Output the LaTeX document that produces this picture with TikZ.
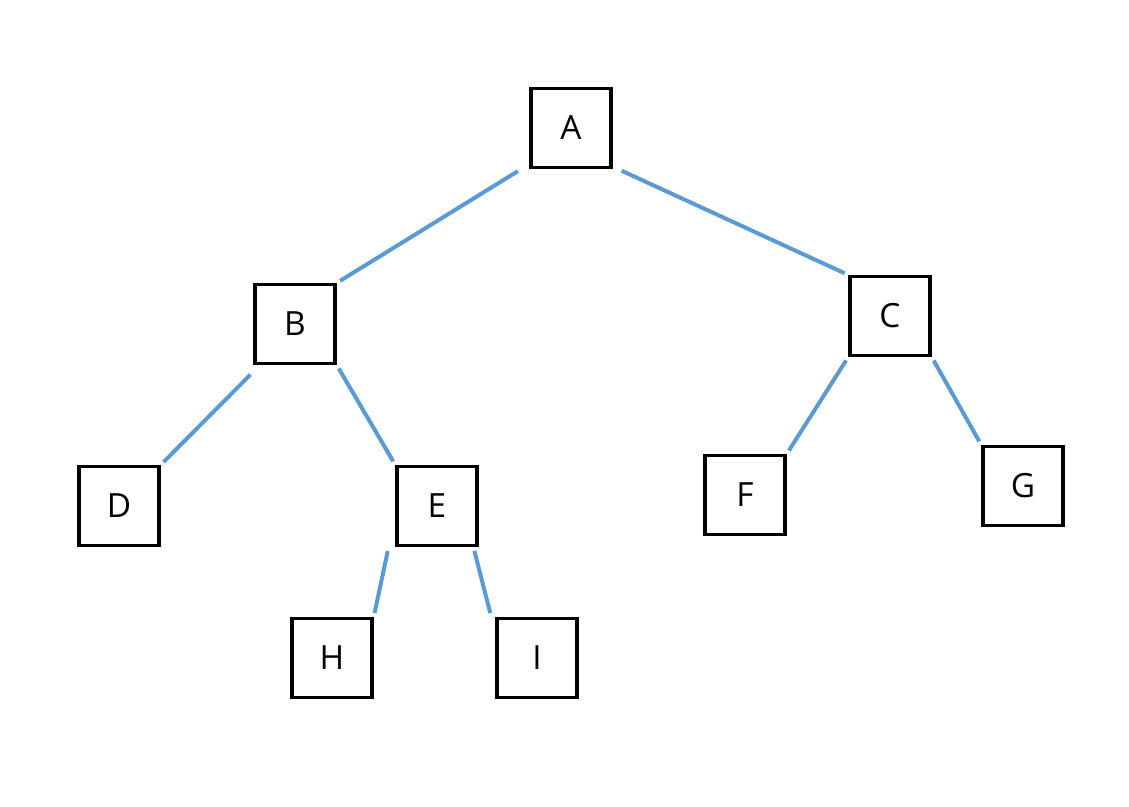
\documentclass[tikz,border=0pt]{standalone}
\usepackage{fontspec}
\setmainfont{Open Sans}
\usetikzlibrary{arrows.meta}

\begin{document}
\begin{tikzpicture}[x=0.75pt,y=-0.75pt,
  treebox/.style={draw=black, line width=2.6pt, fill=white, minimum width=60pt,
    minimum height=59pt, inner sep=0pt, font=\fontsize{25}{30}\selectfont},
  treeedge/.style={draw={rgb,255:red,91;green,155;blue,213}, line width=3pt,
    shorten <=3pt, shorten >=3pt}]
\useasboundingbox (0,0) rectangle (1129,807);
\node[treebox] (A) at (571,128) {A};
\node[treebox] (B) at (295,324) {B};
\node[treebox] (C) at (890,316) {C};
\node[treebox] (D) at (119,506) {D};
\node[treebox] (E) at (437,506) {E};
\node[treebox] (F) at (745,495) {F};
\node[treebox] (G) at (1023,486) {G};
\node[treebox] (H) at (332,658) {H};
\node[treebox] (I) at (537,658) {I};
\draw[treeedge] ([xshift=-6pt]A.south west) -- (B.north east);
\draw[treeedge] ([xshift=4pt]A.south east) -- (C.north west);
\draw[treeedge] ([yshift=-5pt]B.south west) -- (D.north east);
\draw[treeedge] (B.south east) -- (E.north west);
\draw[treeedge] (C.south west) -- (F.north east);
\draw[treeedge] (C.south east) -- (G.north west);
\draw[treeedge] ([xshift=-5pt]E.south west) -- (H.north east);
\draw[treeedge] ([xshift=-4pt]E.south east) -- ([xshift=-3pt]I.north west);
\end{tikzpicture}
\end{document}
